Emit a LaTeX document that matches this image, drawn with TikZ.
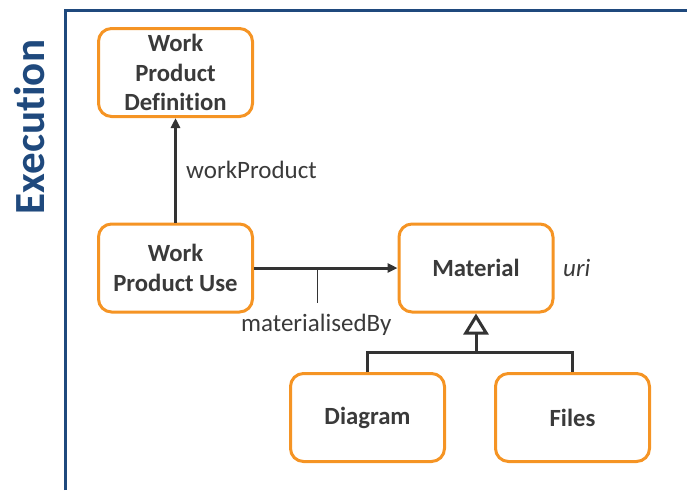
\documentclass[tikz,border=0pt]{standalone}
\usepackage{fontspec}
\setmainfont[Ligatures=NoCommon]{Carlito}
\usetikzlibrary{arrows.meta}
\definecolor{orng}{RGB}{245,148,36}
\definecolor{frameblue}{RGB}{31,73,125}
\definecolor{txt}{RGB}{58,58,58}
\definecolor{lin}{RGB}{51,51,51}
\tikzset{
  cls/.style={draw=orng, line width=3pt, rounded corners=13pt, fill=white,
    minimum width=154pt, minimum height=88pt, inner sep=0pt, align=center,
    text=txt, font=\fontsize{24.7}{29.5}\selectfont\bfseries},
  lbl/.style={text=txt, font=\fontsize{25}{28}\selectfont, inner sep=0pt},
  assoc/.style={draw=lin, line width=3pt, -{Triangle[length=10pt,width=9pt]}},
  gen/.style={draw=lin, line width=3pt},
}
\begin{document}
\begin{tikzpicture}[x=1pt,y=-1pt]
\useasboundingbox (0,0) rectangle (687,490);
% frame
\draw[frameblue, line width=3pt] (65.5,490) -- (65.5,10) -- (687,10);
\node[rotate=90, text=frameblue, font=\fontsize{43}{43}\selectfont\bfseries, inner sep=0pt] (exec) at (30,127) {Execution};
% classes
\node[cls] (wpd) at (175.5,72.5) {Work\\Product\\Definition};
\node[cls] (wpu) at (175.5,268) {Work\\Product Use};
\node[cls] (mat) at (476,268) {Material};
\node[cls] (dia) at (367.5,417.5) {Diagram};
\node[cls] (fil) at (572.5,417.5) {Files};
% workProduct
\draw[assoc] (wpu.north) -- (wpd.south);
\node[lbl, anchor=west] (wplbl) at (186,170) {workProduct};
% materialisedBy
\draw[assoc] (wpu.east) -- (mat.west);
\coordinate (tk) at (317,268);
\coordinate (tkend) at (317,303);
\draw[lin, line width=0.8pt] (tk) -- (tkend);
\node[lbl, anchor=west] (mblbl) at (241,325) {materialisedBy};
\node[lbl, anchor=west, font=\fontsize{25}{28}\selectfont\itshape] (uri) at (563,268) {uri};
% generalization
\coordinate (j) at (mat.south |- 0,352);
\draw[gen] (dia.north) -- (dia.north |- j) -- (fil.north |- j) -- (fil.north);
\draw[gen, -{Triangle[open, length=21pt, width=25pt, fill=white]}] (j) -- (mat.south);
\end{tikzpicture}
\end{document}
